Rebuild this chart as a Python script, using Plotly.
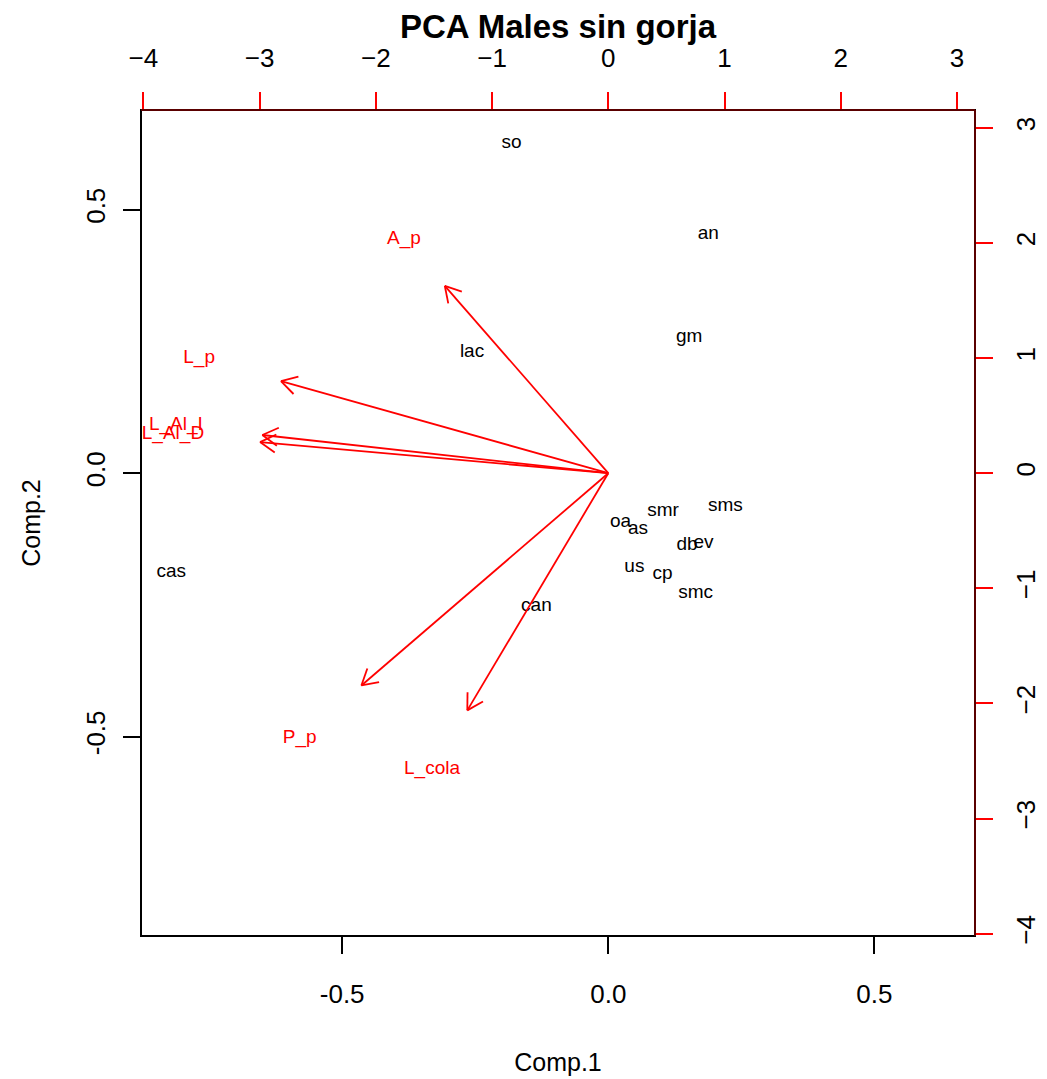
import math
import plotly.graph_objects as go

# Principal component scores of each species (Comp.1, Comp.2)
obs_names = ["so", "an", "gm", "lac", "cas", "can", "sms", "smr",
             "oa", "as", "db", "ev", "us", "cp", "smc"]
comp1 = [-0.182, 0.188, 0.152, -0.256, -0.821, -0.135, 0.220, 0.103,
         0.023, 0.056, 0.148, 0.179, 0.049, 0.102, 0.164]
comp2 = [0.625, 0.453, 0.258, 0.229, -0.187, -0.253, -0.063, -0.072,
         -0.094, -0.106, -0.136, -0.132, -0.178, -0.191, -0.227]

# Variable loadings (scaled, secondary axes)
var_names = ["A_p", "L_p", "L_Al_I", "L_Al_D", "P_p", "L_cola"]
load1 = [-1.758, -3.52, -3.72, -3.745, -2.655, -1.516]
load2 = [2.035, 1.00, 0.415, 0.338, -2.305, -2.575]

# Axis ticks
score_ticks = [-0.5, 0.0, 0.5]
load_ticks = [-4, -3, -2, -1, 0, 1, 2, 3]

score_range = [-0.878, 0.689]
load_range = [-4.02, 3.155]

W, H = 1047, 1079
ML, MR, MT, MB = 141, 72, 110, 143
FONT = "Liberation Sans, Arial, Helvetica, sans-serif"
RED = "#ff0000"

fig = go.Figure()

# Observation labels
fig.add_trace(go.Scatter(
    x=comp1, y=comp2, mode="text", text=obs_names,
    textposition="middle center",
    textfont=dict(family=FONT, size=19, color="black"),
    xaxis="x", yaxis="y", hoverinfo="skip", showlegend=False,
))

# Arrows: shafts run to 0.8 of each loading, labels sit at the loading itself
pw, ph = W - ML - MR, H - MT - MB
kx = pw / (load_range[1] - load_range[0])
ky = ph / (load_range[1] - load_range[0])
head_px = 18
head_ang = math.radians(30)

ax, ay = [], []
for lx, ly in zip(load1, load2):
    tx, ty = 0.8 * lx, 0.8 * ly
    ax += [0, tx, None]
    ay += [0, ty, None]
    # open V arrowhead computed in pixel space
    ang = math.atan2(ty * ky, tx * kx)
    for s in (1, -1):
        a = ang + math.pi + s * head_ang
        bx = tx + head_px * math.cos(a) / kx
        by = ty + head_px * math.sin(a) / ky
        ax += [tx, bx, None]
        ay += [ty, by, None]

fig.add_trace(go.Scatter(
    x=ax, y=ay, mode="lines", line=dict(color=RED, width=1.8),
    xaxis="x2", yaxis="y2", hoverinfo="skip", showlegend=False,
))

fig.add_trace(go.Scatter(
    x=load1, y=load2, mode="text", text=var_names,
    textposition="middle center",
    textfont=dict(family=FONT, size=19, color=RED),
    xaxis="x2", yaxis="y2", hoverinfo="skip", showlegend=False,
))

tickfont = dict(family=FONT, size=26, color="black")

fig.update_layout(
    width=W, height=H,
    margin=dict(l=ML, r=MR, t=MT, b=MB, autoexpand=False),
    paper_bgcolor="white", plot_bgcolor="white",
    font=dict(family=FONT, color="black"),
    title=dict(text="<b>PCA Males sin gorja</b>", x=0.533, xanchor="center",
               y=0.9755, yanchor="middle",
               font=dict(family=FONT, size=33, color="black")),
    xaxis=dict(range=score_range, tickmode="array", tickvals=score_ticks,
               ticktext=[f"{v:.1f}" for v in score_ticks],
               showgrid=False, zeroline=False, showline=False,
               ticks="outside", ticklen=17, tickwidth=1.5, tickcolor="black",
               tickfont=tickfont, ticklabelstandoff=18, automargin=False,
               title=dict(text="Comp.1", standoff=45,
                          font=dict(family=FONT, size=25)),
               anchor="y"),
    yaxis=dict(range=score_range, tickmode="array", tickvals=score_ticks,
               ticktext=[f"{v:.1f}" for v in score_ticks],
               showgrid=False, zeroline=False, showline=False,
               ticks="outside", ticklen=17, tickwidth=1.5, tickcolor="black",
               tickfont=tickfont, tickangle=-90, ticklabelstandoff=8,
               automargin=False,
               title=dict(text="Comp.2", standoff=32,
                          font=dict(family=FONT, size=25)),
               anchor="x"),
    xaxis2=dict(range=load_range, overlaying="x", side="top", anchor="y",
                tickmode="array", tickvals=load_ticks,
                showgrid=False, zeroline=False, showline=False,
                ticks="outside", ticklen=17, tickwidth=1.5, tickcolor=RED,
                tickfont=tickfont, ticklabelstandoff=15, automargin=False),
    yaxis2=dict(range=load_range, overlaying="y", side="right", anchor="x",
                tickmode="array", tickvals=load_ticks,
                showgrid=False, zeroline=False, showline=False,
                ticks="outside", ticklen=17, tickwidth=1.5, tickcolor=RED,
                tickfont=tickfont, tickangle=-90, ticklabelstandoff=11,
                automargin=False),
    shapes=[
        dict(type="rect", xref="paper", yref="paper", x0=0, x1=1, y0=0, y1=1,
             line=dict(color="black", width=2), layer="above"),
        dict(type="line", xref="paper", yref="paper", x0=0, x1=1, y0=1, y1=1,
             line=dict(color="#5a0000", width=2), layer="above"),
        dict(type="line", xref="paper", yref="paper", x0=1, x1=1, y0=0, y1=1,
             line=dict(color="#5a0000", width=2), layer="above"),
    ],
)

fig.write_html("out.html")
